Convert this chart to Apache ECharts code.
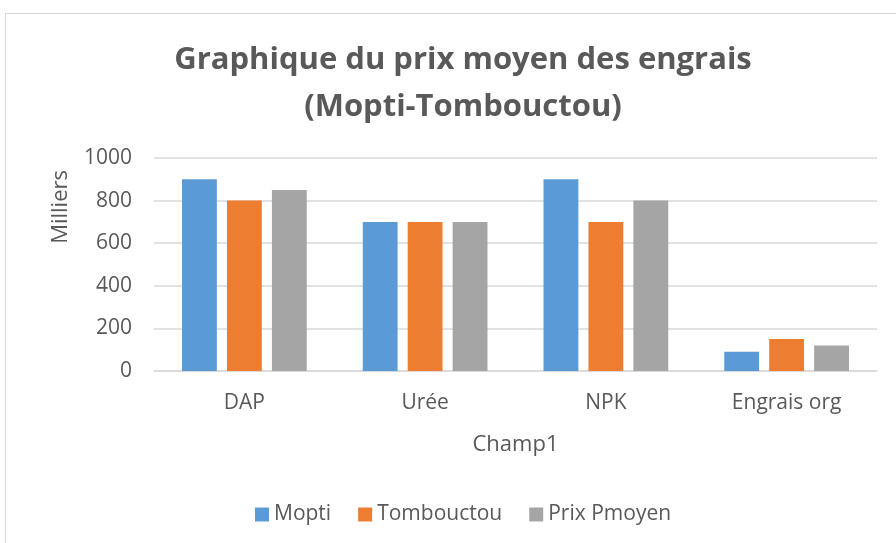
<!DOCTYPE html>
<html>
<head>
<meta charset="utf-8">
<script src="https://cdn.jsdelivr.net/npm/echarts@6/dist/echarts.min.js"></script>
<style>
  html, body { margin: 0; padding: 0; background: #fff; }
  #main { width: 896px; height: 543px; }
  .frame { position: absolute; left: 5px; top: 13px; width: 900px; height: 540px; border: 1px solid #d9d9d9; box-sizing: border-box; pointer-events: none; }
</style>
</head>
<body>
<div id="main"></div>
<div class="frame"></div>
<script>
const categories = ['DAP', 'Urée', 'NPK', 'Engrais org'];
const mopti = [900, 700, 900, 90];
const tombouctou = [800, 700, 700, 150];
const prixMoyen = [850, 700, 800, 120];

const txt = '#595959';
const font = '"Open Sans", "Liberation Sans", sans-serif';

const chart = echarts.init(document.getElementById('main'));
chart.setOption({
  animation: false,
  textStyle: { fontFamily: font },
  title: {
    text: 'Graphique du prix moyen des engrais\n(Mopti-Tombouctou)',
    left: 458,
    top: 32,
    textAlign: 'center',
    textStyle: { fontSize: 31, fontWeight: 'bold', color: txt, lineHeight: 47, fontFamily: font }
  },
  legend: {
    bottom: 13,
    left: 250,
    itemWidth: 14,
    itemHeight: 14,
    itemGap: 27,
    icon: 'rect',
    textStyle: { fontSize: 21, color: txt, fontFamily: font },
    data: ['Mopti', 'Tombouctou', 'Prix Pmoyen']
  },
  // axis title sits near the top of the plot, as in the original
  graphic: [{
    type: 'text',
    left: 50,
    top: 170,
    rotation: Math.PI / 2,
    style: { text: 'Milliers', fontSize: 22, fill: txt, fontFamily: font }
  }],
  grid: { left: 154, right: 19, top: 158, bottom: 172, containLabel: false },
  xAxis: {
    type: 'category',
    data: categories,
    name: 'Champ1',
    nameLocation: 'middle',
    nameGap: 63,
    nameTextStyle: { fontSize: 22, color: txt },
    axisLine: { lineStyle: { color: '#d9d9d9', width: 1.5 } },
    axisTick: { show: false },
    axisLabel: { fontSize: 21, color: txt, margin: 22 }
  },
  yAxis: {
    type: 'value',
    min: 0,
    max: 1000,
    interval: 200,
    axisLine: { show: false },
    axisTick: { show: false },
    axisLabel: { fontSize: 21, color: txt, margin: 22, formatter: v => String(v) },
    splitLine: { lineStyle: { color: '#d9d9d9', width: 1.5 } }
  },
  series: [
    { name: 'Mopti', type: 'bar', data: mopti, itemStyle: { color: '#5b9bd5' }, barGap: '29%', barCategoryGap: '31%' },
    { name: 'Tombouctou', type: 'bar', data: tombouctou, itemStyle: { color: '#ed7d31' } },
    { name: 'Prix Pmoyen', type: 'bar', data: prixMoyen, itemStyle: { color: '#a5a5a5' } }
  ]
});
</script>
</body>
</html>
